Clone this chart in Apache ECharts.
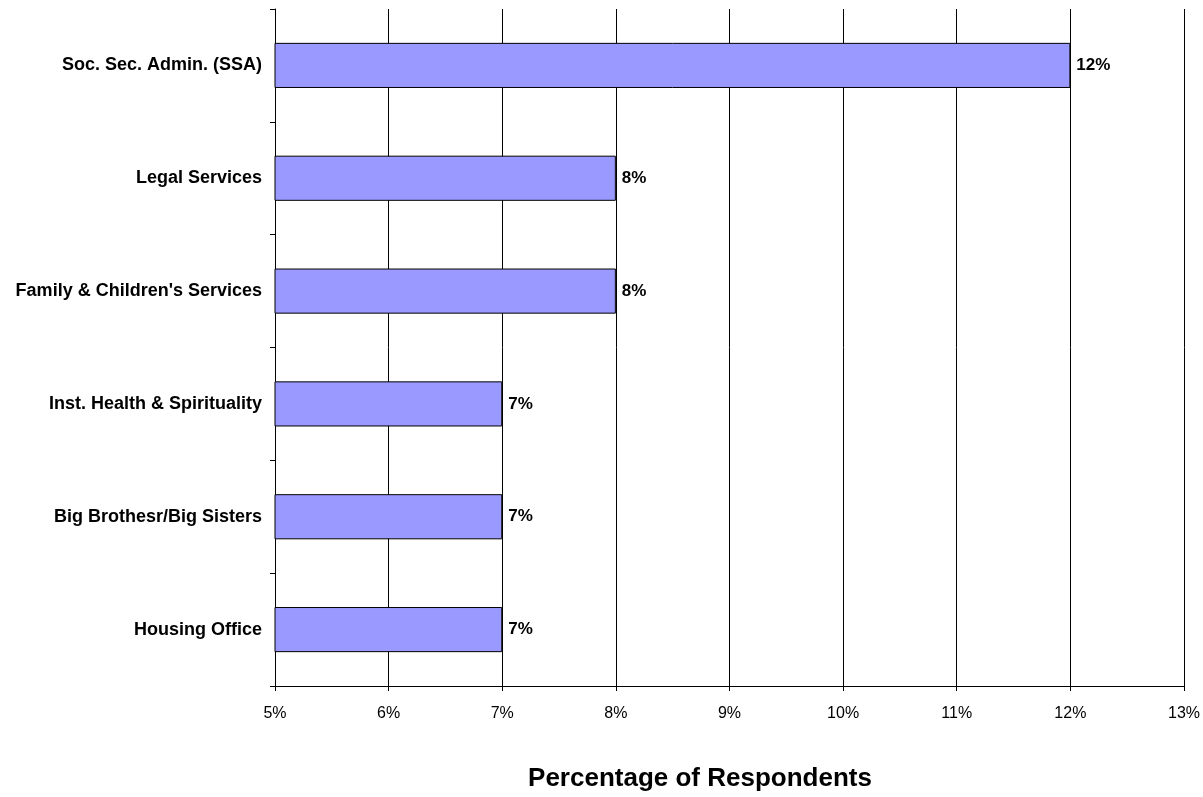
<!DOCTYPE html>
<html>
<head>
<meta charset="utf-8">
<script src="https://cdn.jsdelivr.net/npm/echarts@6/dist/echarts.min.js"></script>
<style>html,body{margin:0;padding:0;background:#fff;}#c{width:1203px;height:797px;}</style>
</head>
<body>
<div id="c"></div>
<script>
const categories = ["Soc. Sec. Admin. (SSA)", "Legal Services", "Family & Children's Services", "Inst. Health & Spirituality", "Big Brothesr/Big Sisters", "Housing Office"];
const values = [12, 8, 8, 7, 7, 7];
const xTicks = [5, 6, 7, 8, 9, 10, 11, 12, 13];
const axisTitle = "Percentage of Respondents";

const chart = echarts.init(document.getElementById('c'), null, {renderer: 'canvas'});
chart.setOption({
  animation: false,
  backgroundColor: '#fff',
  grid: {left: 275, right: 18, top: 9, bottom: 106, containLabel: false},
  xAxis: {
    type: 'value',
    min: xTicks[0], max: xTicks[xTicks.length - 1], interval: 1,
    name: axisTitle, nameLocation: 'middle', nameGap: 80,
    nameTextStyle: {fontFamily: 'Liberation Sans', fontWeight: 'bold', fontSize: 26, color: '#000', padding: [0, 59, 0, 0]},
    axisLine: {show: true, lineStyle: {color: '#000', width: 1}},
    axisTick: {show: true, length: 5, lineStyle: {color: '#000'}},
    axisLabel: {formatter: '{value}%', fontFamily: 'Liberation Sans', fontSize: 16, color: '#000', margin: 20},
    splitLine: {show: true, lineStyle: {color: '#000', width: 1}}
  },
  yAxis: {
    type: 'category', data: categories, inverse: true,
    axisLine: {show: true, lineStyle: {color: '#000', width: 1}},
    axisTick: {show: true, length: 5, alignWithLabel: false, lineStyle: {color: '#000'}},
    axisLabel: {fontFamily: 'Liberation Sans', fontWeight: 'bold', fontSize: 18, color: '#000', margin: 13},
    splitLine: {show: false}
  },
  series: [{
    type: 'bar', data: values, barWidth: '40%',
    itemStyle: {color: '#9999FF', borderColor: '#000', borderWidth: 1},
    label: {show: true, position: 'right', distance: 6, formatter: '{c}%', fontFamily: 'Liberation Sans', fontWeight: 'bold', fontSize: 17, color: '#000'}
  }]
});
</script>
</body>
</html>
